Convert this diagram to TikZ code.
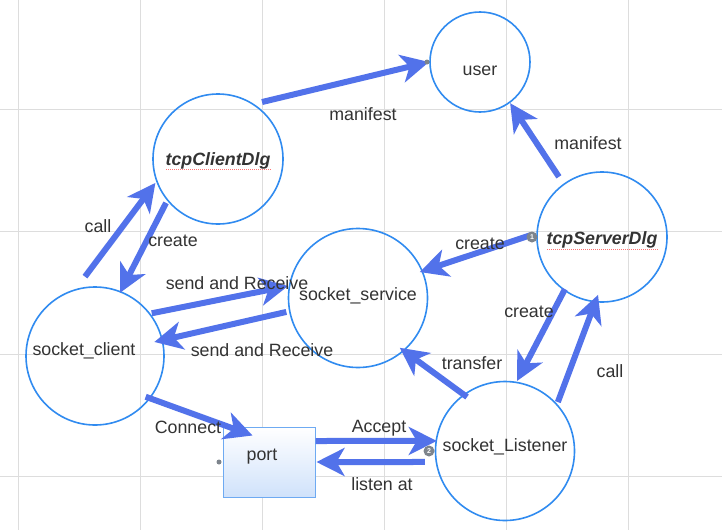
\documentclass[tikz,border=0pt]{standalone}
\usepackage{fontspec}
\setmainfont{Liberation Sans}
\usetikzlibrary{arrows.meta,calc}
\definecolor{arr}{RGB}{82,114,234}
\definecolor{circc}{RGB}{48,139,240}
\definecolor{txt}{RGB}{51,51,51}
\definecolor{gridc}{RGB}{221,221,221}
\definecolor{handlec}{RGB}{125,132,140}
\definecolor{portline}{RGB}{110,170,242}
\definecolor{portbot}{RGB}{208,226,251}
\begin{document}
\begin{tikzpicture}[x=1pt,y=-1pt,
  every node/.style={font=\fontsize{17.8}{20}\selectfont, text=txt},
  state/.style={circle, draw=circc, line width=1.6pt, inner sep=0pt, outer sep=0pt, minimum size=#1, text height=13pt, text depth=4pt},
  lbl/.style={inner sep=0pt, text height=13pt, text depth=4pt},
  conn/.style={draw=arr, line width=6pt, -{Stealth[length=28pt,width=28pt,inset=8pt]}},
  handle/.style={circle, fill=handlec, inner sep=0pt, minimum size=#1, font=\fontsize{7}{8}\selectfont\bfseries, text=white},
  squiggle/.style={draw=red!55, line width=0.6pt, dash pattern=on 1pt off 1pt},
  portbox/.style={rectangle, draw=portline, line width=1pt, top color=white, bottom color=portbot, minimum width=92pt, minimum height=70pt, inner sep=0pt, text height=13pt, text depth=4pt}
]
\useasboundingbox (0,0) rectangle (722,530);
\fill[white] (0,0) rectangle (722,530);
\foreach \gx in {18,140,262,384,506,628} \draw[gridc, line width=1pt] (\gx,0) -- (\gx,530);
\foreach \gy in {109,231,354,476} \draw[gridc, line width=1pt] (0,\gy) -- (722,\gy);

% states
\node[state=100pt] (user) at (480,62) {\raisebox{-9pt}{user}};
\node[state=130pt] (tcd) at (218,159) {\raisebox{-2pt}{\bfseries\itshape tcpClientDlg}};
\node[state=130pt] (tsd) at (602,237) {\raisebox{-3pt}{\bfseries\itshape tcpServerDlg}};
\node[state=139pt] (ss) at (358,298) {\raisebox{2pt}{socket\_service}};
\node[state=138pt] (sc) at (95,356) {\raisebox{5pt}{\hspace*{-22pt}socket\_client}};
\node[state=139pt] (sl) at (505,451) {\raisebox{4pt}{socket\_Listener}};
\node[portbox] (port) at (269,462) {\raisebox{6pt}{\hspace*{-14pt}port}};

% spell-check marks
\draw[squiggle] ($(tcd)+(-52,10)$) -- ($(tcd)+(54,10)$);
\draw[squiggle] ($(tsd)+(-55,12)$) -- ($(tsd)+(56,12)$);

% connectors
\draw[conn] ($(tcd)+(52.3:72pt)$) -- ($(user)+(180:51pt)$);
\draw[conn] ($(tsd)+(125.6:74pt)$) -- ($(user)+(-53.8:51pt)$);
\draw[conn] ($(sc)+(97.2:80pt)$) -- ($(tcd)+(-159.1:67pt)$);
\draw[conn] ($(tcd)+(220.2:68pt)$) -- ($(sc)+(68.4:68pt)$);
\draw[conn] ($(tsd)+(178.4:71pt)$) -- ($(ss)+(22.8:67pt)$);
\draw[conn] ($(sc)+(37:71pt)$) -- ($(ss)+(170.3:71pt)$);
\draw[conn] ($(ss)+(191:73pt)$) -- ($(sc)+(13.3:61pt)$);
\draw[conn] ($(sc)+(-38.8:65pt)$) -- ($(port.north west)+(30,9)$);
\draw[conn] ($(port.east)+(0,-21)$) -- ($(sl)+(171.6:69pt)$);
\draw[conn] ($(sl)+(187.8:81pt)$) -- ($(port.east)+(1,0)$);
\draw[conn] ($(sl)+(125.1:66pt)$) -- ($(ss)+(-50:65pt)$);
\draw[conn] ($(tsd)+(-125.4:64pt)$) -- ($(sl)+(80.3:71pt)$);
\draw[conn] ($(sl)+(42.8:72pt)$) -- ($(tsd)+(-93.9:58pt)$);

% handles
\node[handle=11pt] (h1) at (532,237) {1};
\node[handle=11pt] (h2) at (429,451) {2};
\node[handle=5pt] (h3) at (427,62) {};
\node[handle=5pt] (h4) at (219,462) {};

% labels
\node[lbl] (l1) at (363,116) {manifest};
\node[lbl] (l2) at (588,145) {manifest};
\node[lbl] (l3) at (98,228) {call};
\node[lbl] (l4) at (173,242) {create};
\node[lbl] (l5) at (480,245) {create};
\node[lbl] (l6) at (237,285) {send and Receive};
\node[lbl] (l7) at (262,352) {send and Receive};
\node[lbl] (l8) at (188,429) {Connect};
\node[lbl] (l9) at (379,428) {Accept};
\node[lbl] (l10) at (382,486) {listen at};
\node[lbl] (l11) at (472,365) {transfer};
\node[lbl] (l12) at (529,313) {create};
\node[lbl] (l13) at (610,373) {call};
\end{tikzpicture}
\end{document}
